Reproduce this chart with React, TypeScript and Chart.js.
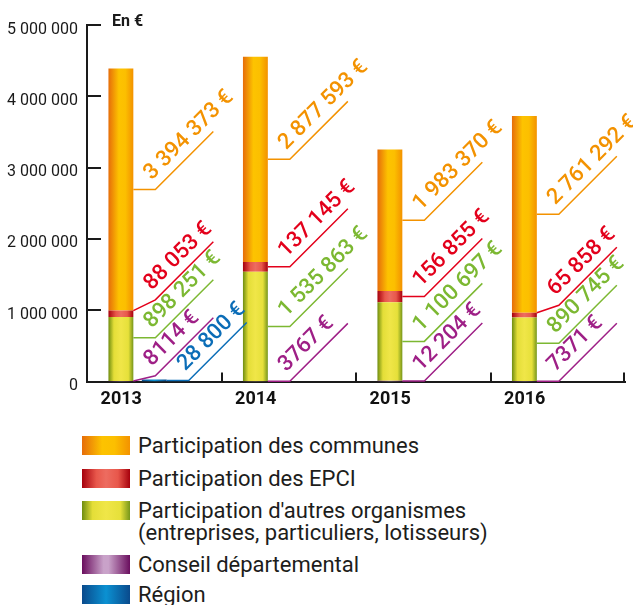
import React, { useEffect, useRef } from "react";
import { Chart, registerables } from "chart.js";

Chart.register(...registerables);

// ---- data ----
const years = ["2013", "2014", "2015", "2016"];
const communes = [3394373, 2877593, 1983370, 2761292];
const epci = [88053, 137145, 156855, 65858];
const autres = [898251, 1535863, 1100697, 890745];
const conseil = [8114, 3767, 12204, 7371];
const region = [28800, null, null, null];
const yMax = 5000000;
const yStep = 1000000;

const seriesNames = [
  "Participation des communes",
  "Participation des EPCI",
  "Participation d'autres organismes\n(entreprises, particuliers, lotisseurs)",
  "Conseil départemental",
  "Région",
];

// ---- styles ----
type Stops = [number, string][];
const gradOrange: Stops = [[0, "#e66d0a"], [0.42, "#fdc300"], [0.68, "#fcbf00"], [1, "#f39200"]];
const gradRed: Stops = [[0, "#a6000c"], [0.3, "#e8574b"], [0.5, "#ed6c60"], [0.75, "#e8574b"], [1, "#a6000c"]];
const gradYellow: Stops = [[0, "#6f8d10"], [0.22, "#e4de38"], [0.5, "#f0e648"], [0.8, "#e6e03a"], [1, "#76961a"]];
const gradPurple: Stops = [[0, "#6a0e5e"], [0.45, "#c9a2c9"], [0.55, "#c9a2c9"], [1, "#6a0e5e"]];
const gradBlue: Stops = [[0, "#0a4a8c"], [0.5, "#0b91d2"], [1, "#0a4a8c"]];

const labelColors = {
  communes: "#f39200",
  epci: "#e3001b",
  autres: "#7cb832",
  conseil: "#9e1f86",
  region: "#0b6db7",
};

const legendTops = [436, 468.5, 500.5, 554.5, 584.5];

const cssGrad = (s: Stops) =>
  `linear-gradient(to right, ${s.map(([o, c]) => `${c} ${o * 100}%`).join(", ")})`;

const group = (v: number) => String(Math.round(v)).replace(/\B(?=(\d{3})+(?!\d))/g, " ");
const fmtValue = (v: number) => {
  const s = String(Math.round(v));
  return s.length === 4 ? s : group(v);
};

const FONT = "Roboto, 'Noto Sans', sans-serif";

export default function App() {
  const ref = useRef<HTMLCanvasElement | null>(null);

  useEffect(() => {
    document.body.style.margin = "0";
    const canvas = ref.current;
    if (!canvas) return;

    const placeholder = (c: string) => () => c;

    const datasets: any[] = [
      { label: seriesNames[3], data: conseil, stack: "main", grad: gradPurple, lc: labelColors.conseil, backgroundColor: placeholder("#a0609a") },
      { label: seriesNames[2], data: autres, stack: "main", grad: gradYellow, lc: labelColors.autres, backgroundColor: placeholder("#e8e040") },
      { label: seriesNames[1], data: epci, stack: "main", grad: gradRed, lc: labelColors.epci, backgroundColor: placeholder("#e8574b") },
      { label: seriesNames[0], data: communes, stack: "main", grad: gradOrange, lc: labelColors.communes, backgroundColor: placeholder("#f8b000") },
      { label: seriesNames[4], data: region, stack: "region", grad: gradBlue, lc: labelColors.region, backgroundColor: placeholder("#0b80c0") },
      { label: "", data: years.map(() => null), stack: "pad", backgroundColor: "rgba(0,0,0,0)" },
    ];

    const gradientPlugin = {
      id: "barGradients",
      beforeDatasetsDraw(chart: any) {
        const ctx = chart.ctx;
        chart.data.datasets.forEach((ds: any, di: number) => {
          if (!ds.grad) return;
          const meta = chart.getDatasetMeta(di);
          meta.data.forEach((el: any) => {
            if (!el || isNaN(el.x)) return;
            const g = ctx.createLinearGradient(el.x - el.width / 2, 0, el.x + el.width / 2, 0);
            ds.grad.forEach(([o, c]: [number, string]) => g.addColorStop(o, c));
            el.options.backgroundColor = g;
          });
        });
      },
    };

    const axisPlugin = {
      id: "axisDecor",
      afterDraw(chart: any) {
        const ctx = chart.ctx;
        const { left, right, bottom } = chart.chartArea;
        const ys = chart.scales.y;
        ctx.save();
        ctx.strokeStyle = "#1a1a1a";
        ctx.lineWidth = 2;
        for (let v = yStep; v <= yMax; v += yStep) {
          const y = Math.round(ys.getPixelForValue(v));
          ctx.beginPath();
          ctx.moveTo(left, y);
          ctx.lineTo(left + 14, y);
          ctx.stroke();
        }
        const n = years.length;
        const w = (right - left) / n;
        for (let k = 1; k <= n; k++) {
          const x = Math.round(left + k * w) - (k === n ? 1 : 0);
          ctx.beginPath();
          ctx.moveTo(x, bottom);
          ctx.lineTo(x, bottom - 9);
          ctx.stroke();
        }
        ctx.fillStyle = "#1a1a1a";
        ctx.font = `bold 16px ${FONT}`;
        ctx.textAlign = "left";
        ctx.textBaseline = "alphabetic";
        ctx.fillText("En €", left + 25, 26);
        ctx.restore();
      },
    };

    const GAP = 38;
    const LEG = 22;
    const REACH = 80;
    const order = [4, 0, 1, 2, 3];
    const leaderPlugin = {
      id: "leaders",
      afterDatasetsDraw(chart: any) {
        const ctx = chart.ctx;
        ctx.save();
        ctx.font = `500 22px ${FONT}`;
        ctx.lineWidth = 1.5;
        const s = Math.SQRT1_2;
        for (let i = 0; i < years.length; i++) {
          let prevC = Infinity;
          for (const di of order) {
            const ds = chart.data.datasets[di];
            const v = ds.data[i];
            if (v == null) continue;
            const el = chart.getDatasetMeta(di).data[i];
            const top = Math.min(el.y, el.base);
            const bot = Math.max(el.y, el.base);
            const edge = el.x + el.width / 2;
            const cx = edge + LEG;
            let y = (top + bot) / 2;
            if (cx + y > prevC - GAP) y = prevC - GAP - cx;
            prevC = cx + y;
            const y0 = Math.min(Math.max(y, top), bot);
            const ex = edge + REACH;
            const ey = y - (ex - cx);
            ctx.strokeStyle = ds.lc;
            ctx.fillStyle = ds.lc;
            ctx.beginPath();
            ctx.moveTo(edge, y0);
            ctx.lineTo(cx, y);
            ctx.lineTo(ex, ey);
            ctx.stroke();
            const along = 4;
            const perp = 9;
            const tx = cx + along * s - perp * s;
            const ty = y - along * s - perp * s;
            ctx.save();
            ctx.translate(tx, ty);
            ctx.rotate(-Math.PI / 4);
            ctx.textAlign = "left";
            ctx.textBaseline = "alphabetic";
            ctx.fillText(`${fmtValue(v)} €`, 0, 0);
            ctx.restore();
          }
        }
        ctx.restore();
      },
    };

    const chart = new Chart(canvas, {
      type: "bar",
      data: { labels: years, datasets },
      plugins: [gradientPlugin, leaderPlugin, axisPlugin],
      options: {
        responsive: false,
        animation: false,
        layout: { padding: { top: 25, right: 8, left: 0, bottom: 0 } },
        plugins: { legend: { display: false }, tooltip: { enabled: false } },
        datasets: { bar: { categoryPercentage: 0.744, barPercentage: 0.746 } } as any,
        scales: {
          x: {
            type: "category",
            offset: true,
            stacked: true,
            grid: { display: false, drawTicks: false },
            border: { display: true, color: "#1a1a1a", width: 2 },
            ticks: {
              labelOffset: -33,
              padding: 7,
              color: "#111",
              font: { family: FONT, size: 18, weight: "bold" },
            },
            afterFit: (s: any) => {
              s.height = 43.5;
            },
          },
          y: {
            stacked: true,
            min: 0,
            max: yMax,
            grid: { display: false, drawTicks: false },
            border: { display: true, color: "#1a1a1a", width: 2 },
            ticks: {
              stepSize: yStep,
              padding: 9,
              labelOffset: 4.5,
              color: "#1a1a1a",
              font: { family: FONT, size: 16 },
              callback: (v: any) => group(Number(v)),
            },
            afterFit: (s: any) => {
              s.width = 87;
            },
          },
        },
      } as any,
    });
    return () => chart.destroy();
  }, []);

  const swatches = [gradOrange, gradRed, gradYellow, gradPurple, gradBlue];

  return (
    <div style={{ position: "relative", width: 633, height: 605, fontFamily: FONT }}>
      <canvas ref={ref} width={633} height={425} style={{ display: "block", width: 633, height: 425 }} />
      {seriesNames.map((name, k) => (
        <div key={k} style={{ position: "absolute", left: 82, top: legendTops[k], display: "flex", alignItems: "flex-start" }}>
          <div style={{ width: 48, height: 19, background: cssGrad(swatches[k]), flex: "none" }} />
          <div style={{ marginLeft: 8, fontSize: 22, lineHeight: "22px", color: "#1d1d1b", whiteSpace: "pre", marginTop: -1 }}>
            {name}
          </div>
        </div>
      ))}
    </div>
  );
}
